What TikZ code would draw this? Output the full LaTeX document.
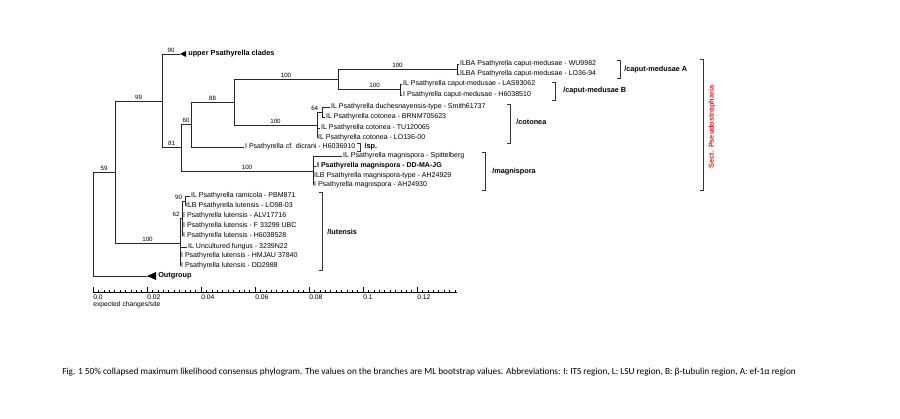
\documentclass[tikz,border=0pt]{standalone}
\usepackage{fontspec}
\setmainfont{Liberation Sans}
\newfontfamily\capfont{Carlito}
\usetikzlibrary{calc}

\tikzset{
  leaf/.style={anchor=west, inner xsep=0.6pt, inner ysep=0pt, font=\fontsize{5}{6}\selectfont},
  clade/.style={anchor=west, inner sep=0pt, font=\fontsize{5.2}{6}\selectfont\bfseries},
  boot/.style={above, inner sep=0.7pt, font=\fontsize{4.4}{5}\selectfont},
  branch/.style={line width=0.55pt, draw=black!85},
  brack/.style={line width=0.5pt, draw=black!80},
}

\begin{document}
\begin{tikzpicture}[x=0.025cm, y=-0.025cm]
 \useasboundingbox (0,0) rectangle (900,419);
 % internal nodes of the tree
 \coordinate (root)  at (93,224);
 \coordinate (n59)   at (115,172);
 \coordinate (n99)   at (162,101);
 \coordinate (n81)   at (181,147);
 \coordinate (n60)   at (191,124);
 \coordinate (n88)   at (234,102);
 \coordinate (ncap)  at (338,79);
 \coordinate (ncapA) at (457,69);
 \coordinate (ncapB) at (400,89);
 \coordinate (ncot)  at (317,125);
 \coordinate (n64)   at (322,112);
 \coordinate (nmag)  at (313,171);
 \coordinate (nlut)  at (180,243);
 \coordinate (n62)   at (182,218);
 \coordinate (n90)   at (185,201);
 \coordinate (upper) at (180,54);
 \coordinate (outgr) at (147,276);
 % collapsed clades
 \fill (upper) -- ++(6,-3) -- ++(0,6) -- cycle;
 \fill (outgr) -- ++(9,-4) -- ++(0,8) -- cycle;
 \node [clade] (upperlab) at (188,54) {upper Psathyrella clades};
 \node [clade] (outlab)   at (158,276) {Outgroup};
 % leaves
 \node [leaf] (wu)    at (459,64)  {ILBA Psathyrella caput-medusae - WU9982};
 \node [leaf] (lo36)  at (459,74)  {ILBA Psathyrella caput-medusae - LO36-94};
 \node [leaf] (las)   at (402,84)  {IL Psathyrella caput-medusae - LAS93062};
 \node [leaf] (h6038510) at (402,95) {I Psathyrella caput-medusae - H6038510};
 \node [leaf] (smith) at (330,107) {IL Psathyrella duchesnayensis-type - Smith61737};
 \node [leaf] (brnm)  at (325,117) {IL Psathyrella cotonea - BRNM705623};
 \node [leaf] (tu)    at (320,128) {IL Psathyrella cotonea - TU120065};
 \node [leaf] (lo136) at (317,138) {IL Psathyrella cotonea - LO136-00};
 \node [leaf] (dic)   at (244,147) {I Psathyrella cf. dicrani - H6036910};
 \node [leaf] (spit)  at (342,156) {IL Psathyrella magnispora - Spittelberg};
 \node [leaf, font=\fontsize{5}{6}\selectfont\bfseries] (ddma) at (316,166) {I Psathyrella magnispora - DD-MA-JG};
 \node [leaf] (ah929) at (313,176) {ILB Psathyrella magnispora-type - AH24929};
 \node [leaf] (ah930) at (313,185) {I Psathyrella magnispora - AH24930};
 \node [leaf] (pbm)   at (190,196) {IL Psathyrella ramicola - PBM871};
 \node [leaf] (lo98)  at (185,206) {ILB Psathyrella lutensis - LO98-03};
 \node [leaf] (alv)   at (182,216) {I Psathyrella lutensis - ALV17716};
 \node [leaf] (ubc)   at (182,226) {I Psathyrella lutensis - F 33299 UBC};
 \node [leaf] (h6038528) at (182,236) {I Psathyrella lutensis - H6038528};
 \node [leaf] (unc)   at (187,247) {IL Uncultured fungus - 3239N22};
 \node [leaf] (hmjau) at (180,256) {I Psathyrella lutensis - HMJAU 37840};
 \node [leaf] (dd2988) at (180,266) {I Psathyrella lutensis - DD2988};
 % branches
 \draw [branch] (root) |- node [boot, pos=0.75] {59} (n59);
 \draw [branch] (root) |- (outgr);
 \draw [branch] (n59) |- node [boot, pos=0.75] {99} (n99);
 \draw [branch] (n59) |- node [boot, pos=0.75] {100} (nlut);
 \draw [branch] (n99) |- node [boot, pos=0.75] {90} (upper);
 \draw [branch] (n99) |- node [boot, pos=0.75] {81} (n81);
 \draw [branch] (n81) |- node [boot, pos=0.75] {60} (n60);
 \draw [branch] (n81) |- node [boot, pos=0.75] {100} (nmag);
 \draw [branch] (n60) |- node [boot, pos=0.75] {88} (n88);
 \draw [branch] (n60) |- (dic);
 \draw [branch] (n88) |- node [boot, pos=0.75] {100} (ncap);
 \draw [branch] (n88) |- node [boot, pos=0.75] {100} (ncot);
 \draw [branch] (ncap) |- node [boot, pos=0.75] {100} (ncapA);
 \draw [branch] (ncap) |- node [boot, pos=0.75, xshift=4pt] {100} (ncapB);
 \draw [branch] (ncapA) |- (wu);
 \draw [branch] (ncapA) |- (lo36);
 \draw [branch] (ncapB) |- (las);
 \draw [branch] (ncapB) |- (h6038510);
 \draw [branch] (ncot) |- node [boot, pos=0.75, anchor=south east] {64} (n64);
 \draw [branch] (ncot) |- (tu);
 \draw [branch] (ncot) |- (lo136);
 \draw [branch] (n64) |- (smith);
 \draw [branch] (n64) |- (brnm);
 \draw [branch] (nmag) |- (spit);
 \draw [branch] (nmag) |- (ddma);
 \draw [branch] (nmag) |- (ah929);
 \draw [branch] (nmag) |- (ah930);
 \draw [branch] (nlut) |- node [boot, pos=0.75, anchor=south east] {62} (n62);
 \draw [branch] (nlut) |- (unc);
 \draw [branch] (nlut) |- (hmjau);
 \draw [branch] (nlut) |- (dd2988);
 \draw [branch] (n62) |- node [boot, pos=0.75, anchor=south east] {90} (n90);
 \draw [branch] (n62) |- (alv);
 \draw [branch] (n62) |- (ubc);
 \draw [branch] (n62) |- (h6038528);
 \draw [branch] (n90) |- (pbm);
 \draw [branch] (n90) |- (lo98);
 % clade brackets
 \draw [brack] (617,60) -- (620,60) -- (620,78) -- (617,78);
 \node [clade] (capAlab) at (624,70) {/caput-medusae A};
 \draw [brack] (552,82) -- (555,82) -- (555,100) -- (552,100);
 \node [clade] (capBlab) at (563,91) {/caput-medusae B};
 \draw [brack] (507,104) -- (510,104) -- (510,143) -- (507,143);
 \node [clade] (cotlab) at (516,122) {/cotonea};
 \draw [brack] ($(dic.east)+(1,-4)$) -- ++(3,0) -- ++(0,8) -- ++(-3,0);
 \node [clade] (splab) at ($(dic.east)+(8,0)$) {/sp.};
 \draw [brack] (482,152) -- (485,152) -- (485,190) -- (482,190);
 \node [clade] (maglab) at (492,172) {/magnispora};
 \draw [brack] (319,192) -- (322,192) -- (322,270) -- (319,270);
 \node [clade] (lutlab) at (327,232) {/lutensis};
 \draw [brack] (700,59) -- (703,59) -- (703,190) -- (700,190);
 \node [clade, anchor=center, rotate=90, text=red!90!white] (sectlab) at (712,127) {Sect. Pseudostropharia};
 % scale bar
 \draw [line width=0.5pt] (93,292) -- (457,292);
 \foreach \i in {0,...,67}
   \draw [line width=0.4pt] (93+5.4*\i,292) -- ++(0,-2);
 \foreach \i/\lab in {0/0.0,1/0.02,2/0.04,3/0.06,4/0.08,5/0.1,6/0.12} {
   \draw [line width=0.5pt] (93+54*\i,292) -- ++(0,-4.5);
   \node [anchor=north west, inner sep=0pt, font=\fontsize{4.8}{5}\selectfont] at (93+54*\i,294.5) {\lab};
 }
 \node [anchor=west, inner sep=0pt, font=\fontsize{4.8}{5}\selectfont] (unit) at (93,305) {expected changes/site};
 % caption
 \node [anchor=west, inner sep=0pt, font=\capfont\fontsize{6.6}{7}\selectfont] (caption) at (62,372)
   {Fig. 1 50\% collapsed maximum likelihood consensus phylogram. The values on the branches are ML bootstrap values. Abbreviations: I: ITS region, L: LSU region, B: β-tubulin region, A: ef-1α region};
\end{tikzpicture}
\end{document}
